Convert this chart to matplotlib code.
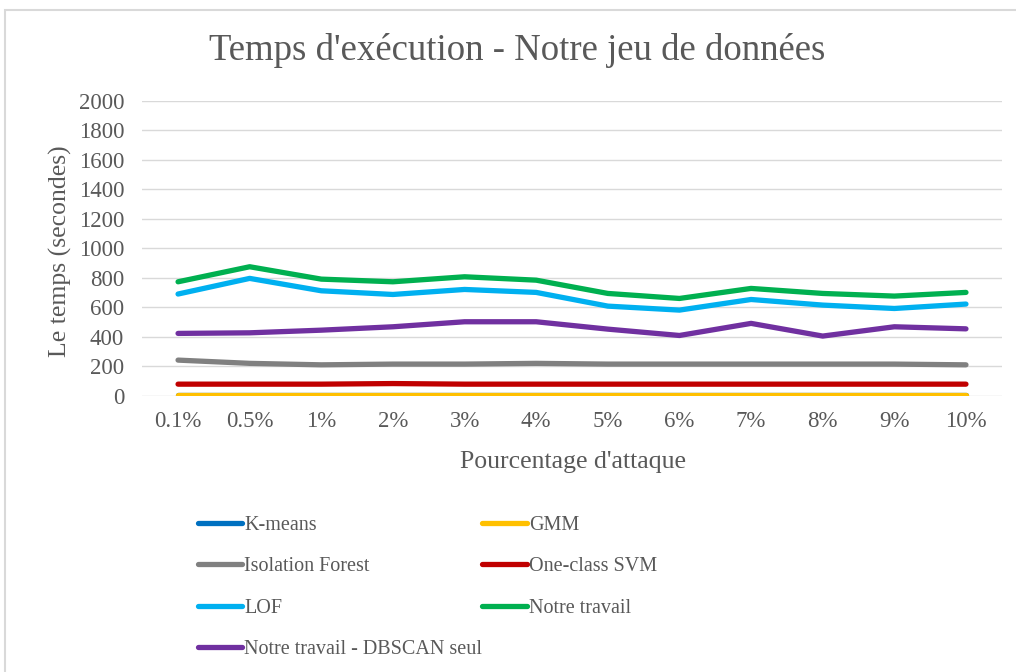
"""
temps d'execution par methode selon le pourcentage d'attaque (notre jeu de donnees)
"""

import matplotlib
matplotlib.use("Agg")
import matplotlib.pyplot as plt
from matplotlib.patches import Rectangle

# data
pourcentages = ['0.1%', '0.5%', '1%', '2%', '3%', '4%', '5%', '6%', '7%', '8%', '9%', '10%']

kmeans = [4, 4, 4, 4, 4, 4, 4, 4, 4, 4, 4, 4]
gmm = [3, 3, 3, 3, 3, 3, 3, 3, 3, 3, 3, 3]
isolation_forest = [242, 220, 210, 215, 215, 220, 215, 215, 215, 215, 215, 210]
one_class_svm = [79, 79, 79, 83, 79, 79, 79, 79, 79, 79, 79, 79]
lof = [690, 796, 712, 687, 721, 701, 608, 581, 653, 615, 592, 622]
notre_travail = [773, 875, 791, 773, 807, 784, 694, 660, 728, 694, 676, 701]
dbscan_seul = [423, 427, 445, 468, 502, 502, 452, 409, 491, 405, 468, 454]

series = [
    ('K-means', kmeans, '#0070C0'),
    ('GMM', gmm, '#FFC000'),
    ('Isolation Forest', isolation_forest, '#808080'),
    ('One-class SVM', one_class_svm, '#C00000'),
    ('LOF', lof, '#00B0F0'),
    ('Notre travail', notre_travail, '#00B050'),
    ('Notre travail - DBSCAN seul', dbscan_seul, '#7030A0'),
]

text_color = '#595959'
plt.rcParams['font.family'] = ['Liberation Serif', 'DejaVu Serif']

fig = plt.figure(figsize=(10.16, 6.72), dpi=100)
ax = fig.add_axes([0.140, 0.411, 0.846, 0.439])

# light frame around the chart, like the excel chart area
fig.patches.append(Rectangle((5 / 1016, -0.01), 1.02, 1 - 10 / 672 + 0.01,
                             transform=fig.transFigure, fill=False,
                             edgecolor='#d9d9d9', linewidth=1.5))

x = list(range(len(pourcentages)))
handles = {}
for name, values, color in series:
    line, = ax.plot(x, values, color=color, linewidth=3.8,
                    solid_capstyle='round', solid_joinstyle='round', label=name)
    handles[name] = line

ax.set_xlim(-0.5, len(pourcentages) - 0.5)
ax.set_ylim(0, 2000)
ax.set_yticks(range(0, 2001, 200))
ax.set_xticks(x)
ax.set_xticklabels(pourcentages)

ax.grid(axis='y', color='#d9d9d9', linewidth=1)
ax.set_axisbelow(True)
for side in ['top', 'right', 'left', 'bottom']:
    ax.spines[side].set_visible(False)
ax.tick_params(axis='both', length=0, labelsize=16.5, labelcolor=text_color)
ax.tick_params(axis='x', pad=11)
ax.tick_params(axis='y', pad=13)

fig.text(517 / 1016, 1 - 50 / 672, "Temps d'exécution - Notre jeu de données",
         ha='center', va='center', fontsize=26.5, color=text_color)
fig.text(573 / 1016, 1 - 462 / 672, "Pourcentage d'attaque",
         ha='center', va='center', fontsize=18.5, color=text_color)
fig.text(60 / 1016, 1 - 251 / 672, "Le temps (secondes)", rotation=90,
         ha='center', va='center', fontsize=18.5, color=text_color)

# excel fills the legend row by row, matplotlib column by column
order = ['K-means', 'Isolation Forest', 'LOF', 'Notre travail - DBSCAN seul',
         'GMM', 'One-class SVM', 'Notre travail']
leg = fig.legend([handles[n] for n in order], order, ncol=2,
                 loc='upper left', bbox_to_anchor=(190 / 1016, 1 - 508 / 672),
                 frameon=False, fontsize=14.5, handlelength=2.2, handletextpad=0.1,
                 columnspacing=0.0, labelspacing=1.1, borderaxespad=0)
for t in leg.get_texts():
    t.set_color(text_color)

fig.savefig('out.png', dpi=100)
